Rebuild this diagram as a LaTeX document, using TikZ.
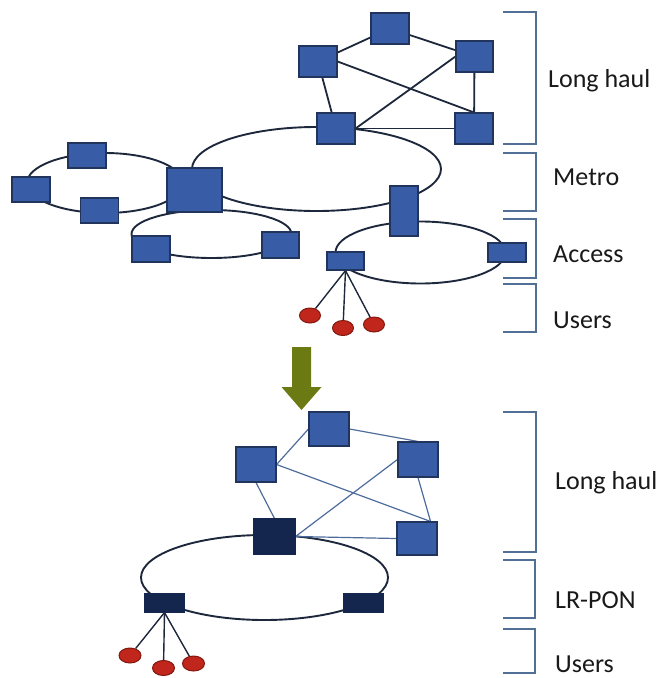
\documentclass[tikz,border=0pt]{standalone}
\usepackage{fontspec}
\setmainfont{Carlito}
\usetikzlibrary{shapes.geometric,backgrounds}
\definecolor{nodeblue}{RGB}{56,93,166}
\definecolor{nodeedge}{RGB}{32,52,92}
\definecolor{darknode}{RGB}{20,38,78}
\definecolor{linkdark}{RGB}{30,40,60}
\definecolor{linklight}{RGB}{78,108,155}
\definecolor{userred}{RGB}{192,38,28}
\definecolor{useredge}{RGB}{130,25,15}
\definecolor{brk}{RGB}{82,112,150}
\definecolor{arrowgreen}{RGB}{108,122,20}
\definecolor{txt}{RGB}{25,25,25}
\tikzset{
  box/.style={draw=nodeedge, fill=nodeblue, line width=1.1pt, inner sep=0pt, rectangle},
  dbox/.style={draw=darknode, fill=darknode, line width=1.1pt, inner sep=0pt, rectangle},
  user/.style={draw=useredge, fill=userred, line width=1pt, ellipse, inner sep=0pt, minimum width=21pt, minimum height=15pt},
  link/.style={draw=linkdark, line width=1.8pt},
  thinlink/.style={draw=linklight, line width=1.2pt},
  ring/.style={draw=linkdark, line width=1.9pt},
  bracket/.style={draw=brk, line width=1.3pt},
  lbl/.style={anchor=base west, text=txt, inner sep=0pt, font=\fontsize{26}{30}\selectfont}
}
\begin{document}
\begin{tikzpicture}[x=1pt,y=-1pt]
\useasboundingbox (0,0) rectangle (660,678);
% ---------- top: long haul nodes
\node[box, minimum width=38pt, minimum height=31pt] (lt)  at (390,28.5) {};
\node[box, minimum width=38pt, minimum height=31pt] (ll)  at (318,61.5) {};
\node[box, minimum width=37pt, minimum height=31pt] (lr)  at (474.5,56.5) {};
\node[box, minimum width=38pt, minimum height=31pt] (lbm) at (336,128.5) {};
\node[box, minimum width=38pt, minimum height=31pt] (lbr) at (474,128.5) {};
% metro nodes
\node[box, minimum width=55pt, minimum height=44pt] (mbig) at (194.5,190) {};
\node[box, minimum width=38pt, minimum height=25pt] (mlt) at (87,155.5) {};
\node[box, minimum width=38pt, minimum height=25pt] (mfl) at (31,189.5) {};
\node[box, minimum width=38pt, minimum height=25pt] (mlb) at (99.5,210.5) {};
\node[box, minimum width=38pt, minimum height=26pt] (mbl) at (151,249) {};
\node[box, minimum width=37pt, minimum height=26pt] (mbr) at (280.5,245) {};
\node[box, minimum width=28pt, minimum height=50pt] (mv) at (404,211) {};
% access nodes
\node[box, minimum width=38pt, minimum height=19pt] (ar) at (507,252.5) {};
\node[box, minimum width=37pt, minimum height=18pt] (al) at (345.5,261) {};
% users
\node[user] (u1) at (310,315.5) {};
\node[user] (u2) at (343,328) {};
\node[user] (u3) at (374,324.5) {};
\begin{pgfonlayer}{background}
  \draw[ring] (316.5,169) ellipse [x radius=124.5pt, y radius=42pt];
  \draw[ring] (105,183) ellipse [x radius=78pt, y radius=30pt];
  \draw[ring] (211.5,234) ellipse [x radius=80pt, y radius=24pt];
  \draw[ring] (420.5,252.5) ellipse [x radius=85pt, y radius=31pt];
  \draw[link] (lt) -- (ll);
  \draw[link] (lt) -- (lr);
  \draw[link] (ll.east) -- (lbr.north);
  \draw[link] (lbm.east) -- (lr.west);
  \draw[link] (lbm) -- (lbr);
  \draw[link] (ll) -- (lbm);
  \draw[link] (lr) -- (lbr);
  \draw[link, line width=1.4pt] (al.south) -- (u1);
  \draw[link, line width=1.4pt] (al.south) -- (u2);
  \draw[link, line width=1.4pt] (al.south) -- (u3);
\end{pgfonlayer}
% ---------- arrow
\fill[arrowgreen] (292,347) -- (311,347) -- (311,387) -- (321.5,387) -- (301.5,410) -- (281.5,387) -- (292,387) -- cycle;
% ---------- bottom network
\node[box, minimum width=40pt, minimum height=34pt] (bt) at (329,429) {};
\node[box, minimum width=40pt, minimum height=35pt] (bl) at (256,464.5) {};
\node[box, minimum width=40pt, minimum height=35pt] (br) at (418,459.5) {};
\node[dbox, minimum width=41pt, minimum height=35pt] (bd) at (274.5,536.5) {};
\node[box, minimum width=40pt, minimum height=33pt] (bbr) at (417,538.5) {};
\node[dbox, minimum width=39pt, minimum height=18pt] (pl) at (164.5,603) {};
\node[dbox, minimum width=39pt, minimum height=18pt] (pr) at (363.5,603) {};
\node[user, minimum width=22pt] (v1) at (130,655.5) {};
\node[user, minimum width=22pt] (v2) at (163.5,668) {};
\node[user, minimum width=22pt] (v3) at (193.5,663.5) {};
\begin{pgfonlayer}{background}
  \draw[ring] (264.5,577.5) ellipse [x radius=123.5pt, y radius=42.5pt];
  \draw[thinlink] (bl.east) -- (bt.west);
  \draw[thinlink] (bt.east) -- (br.north);
  \draw[thinlink] (bl.east) -- ([xshift=-7pt]bbr.north east);
  \draw[thinlink] (bl.south) -- (bd.north);
  \draw[thinlink] (bd.east) -- (br.west);
  \draw[thinlink] (bd.east) -- (bbr.west);
  \draw[thinlink] (br.south) -- ([xshift=-7pt]bbr.north east);
  \draw[link, line width=1.4pt] (pl.south) -- (v1);
  \draw[link, line width=1.4pt] (pl.south) -- (v2);
  \draw[link, line width=1.4pt] (pl.south) -- (v3);
\end{pgfonlayer}
% ---------- brackets and labels
\draw[bracket] (503,12) -- (536,12) -- (536,144) -- (503,144);
\draw[bracket] (503,153) -- (536,153) -- (536,211) -- (503,211);
\draw[bracket] (503,219) -- (536,219) -- (536,278) -- (503,278);
\draw[bracket] (503,284) -- (536,284) -- (536,332) -- (503,332);
\draw[bracket] (503,412) -- (536,412) -- (536,552) -- (503,552);
\draw[bracket] (503,560) -- (535,560) -- (535,618) -- (503,618);
\draw[bracket] (503,629) -- (535,629) -- (535,673) -- (503,673);
\node[lbl] (t1) at (548,87) {Long haul};
\node[lbl] (t2) at (553,185) {Metro};
\node[lbl] (t3) at (553,262) {Access};
\node[lbl] (t4) at (553,328) {Users};
\node[lbl] (t5) at (555,489) {Long haul};
\node[lbl] (t6) at (555,608) {LR-PON};
\node[lbl] (t7) at (555,672) {Users};
\end{tikzpicture}
\end{document}
